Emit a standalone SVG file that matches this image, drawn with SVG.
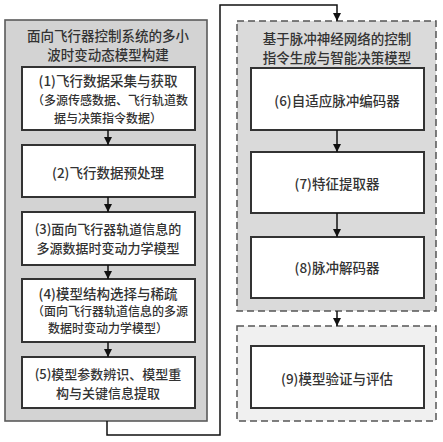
<svg xmlns="http://www.w3.org/2000/svg" width="443" height="442" viewBox="0 0 443 442">
<defs>
<marker id="ah" viewBox="0 0 10 10" refX="10" refY="5" markerWidth="8" markerHeight="8" markerUnits="userSpaceOnUse" orient="auto">
<path d="M0,0 L10,5 L0,10 z" fill="#111"/>
</marker>
</defs>
<style>
.grp{fill:#d3d3d3;stroke:#5a5a5a;stroke-width:1.6}
.dgrp{fill:#dadada;stroke:#555;stroke-width:1.5;stroke-dasharray:7,4}
.dgrp2{fill:#f0f0f0;stroke:#555;stroke-width:1.5;stroke-dasharray:7,4}
.box{fill:#fff;stroke:#333;stroke-width:2}
text{font-family:"Noto Sans CJK SC","Noto Sans",sans-serif;font-size:13.5px;fill:#333;text-anchor:middle;dominant-baseline:central;font-weight:500}
.sm{font-size:12px}
.md{font-size:13px}
.conn{fill:none;stroke:#111;stroke-width:1.5}
</style>
<rect width="443" height="442" fill="#fff"/>
<g id="left-group">
<rect class="grp" x="5" y="20" width="202" height="401"/>
<text x="108" y="34.5">面向飞行器控制系统的多小</text>
<text x="108" y="53.5">波时变动态模型构建</text>
</g>
<g id="n1">
<rect class="box" x="22" y="67" width="173" height="63"/>
<text x="108" y="80">(1)飞行数据采集与获取</text>
<text class="sm" x="110" y="99">（多源传感数据、飞行轨道数</text>
<text class="sm" x="108" y="117">据与决策指令数据）</text>
</g>
<g id="n2">
<rect class="box" x="22" y="145" width="173" height="52"/>
<text x="108" y="172">(2)飞行数据预处理</text>
</g>
<g id="n3">
<rect class="box" x="22" y="212" width="173" height="53"/>
<text class="md" x="108" y="228.5">(3)面向飞行器轨道信息的</text>
<text class="md" x="108" y="247.5">多源数据时变动力学模型</text>
</g>
<g id="n4">
<rect class="box" x="22" y="279" width="173" height="63"/>
<text x="108" y="293">(4)模型结构选择与稀疏</text>
<text class="sm" x="110" y="310.5">（面向飞行器轨道信息的多源</text>
<text class="sm" x="108" y="327.5">数据时变动力学模型）</text>
</g>
<g id="n5">
<rect class="box" x="22" y="357" width="173" height="51"/>
<text class="md" x="108" y="373.5">(5)模型参数辨识、模型重</text>
<text class="md" x="108" y="392.5">构与关键信息提取</text>
</g>
<g id="right-group">
<rect class="dgrp" x="237" y="21" width="199" height="290"/>
<text x="337" y="38">基于脉冲神经网络的控制</text>
<text x="337" y="57">指令生成与智能决策模型</text>
</g>
<g id="n6">
<rect class="box" x="251" y="68" width="173" height="62"/>
<text x="337" y="100">(6)自适应脉冲编码器</text>
</g>
<g id="n7">
<rect class="box" x="251" y="152" width="173" height="61"/>
<text x="337" y="183">(7)特征提取器</text>
</g>
<g id="n8">
<rect class="box" x="251" y="237" width="173" height="61"/>
<text x="337" y="267">(8)脉冲解码器</text>
</g>
<g id="eval-group">
<rect class="dgrp2" x="237" y="326" width="199" height="95"/>
</g>
<g id="n9">
<rect class="box" x="251" y="346" width="173" height="62"/>
<text x="337" y="378">(9)模型验证与评估</text>
</g>
<g id="connectors">
<path class="conn" d="M108,130 V145" marker-end="url(#ah)"/>
<path class="conn" d="M108,197 V212" marker-end="url(#ah)"/>
<path class="conn" d="M108,265 V279" marker-end="url(#ah)"/>
<path class="conn" d="M108,342 V357" marker-end="url(#ah)"/>
<path class="conn" d="M107,421 V435 H220 V5 H337 V21" marker-end="url(#ah)"/>
<path class="conn" d="M337,130 V152" marker-end="url(#ah)"/>
<path class="conn" d="M337,213 V237" marker-end="url(#ah)"/>
<path class="conn" d="M337,311 V326" marker-end="url(#ah)"/>
</g>
</svg>
